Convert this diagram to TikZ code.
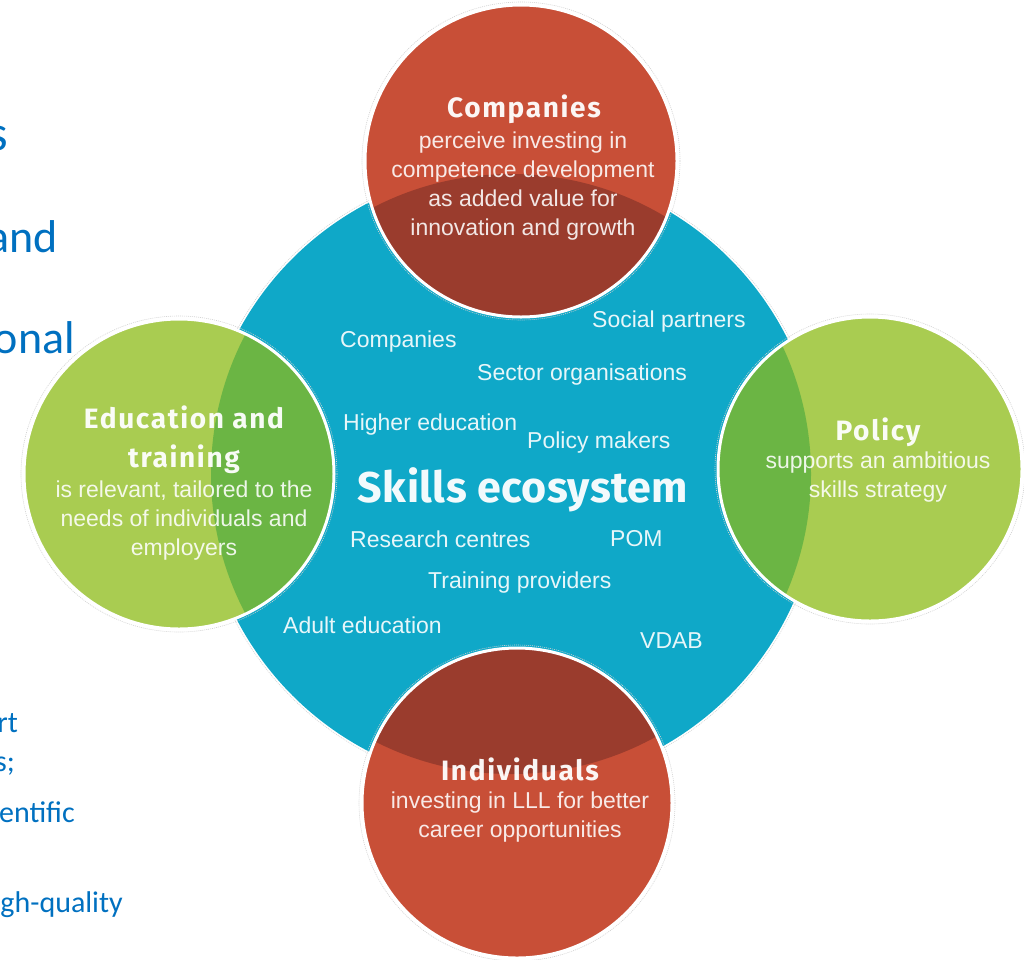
\documentclass[tikz,border=0pt]{standalone}
\usepackage{fontspec}
\setmainfont{Liberation Sans}
\newfontfamily\titlefont{Fira Sans}[LetterSpace=6]
\newfontfamily\ecofont{Fira Sans}[LetterSpace=1]
\newfontfamily\docfont{Carlito}
\definecolor{ecoblue}{HTML}{0FA8C8}
\definecolor{redlight}{HTML}{C84F37}
\definecolor{reddark}{HTML}{9A3C2D}
\definecolor{greenlight}{HTML}{A9CC51}
\definecolor{greendark}{HTML}{6BB544}
\definecolor{docblue}{HTML}{0070C0}
\tikzset{
  body/.style={font=\fontsize{23}{29}\selectfont, text=white, text opacity=0.88, inner sep=0pt, align=center, anchor=base},
  actor/.style={font=\fontsize{23}{29}\selectfont, text=white, text opacity=0.9, inner sep=0pt, anchor=base west},
  ctitle/.style={font=\titlefont\bfseries\fontsize{28}{39}\selectfont, text=white, text opacity=0.95, inner sep=0pt, align=center, anchor=base},
  frag/.style={font=\docfont\fontsize{46}{46}\selectfont, text=docblue, inner sep=0pt, anchor=base east},
  fragsmall/.style={font=\docfont\fontsize{30}{30}\selectfont, text=docblue, inner sep=0pt, anchor=base east},
  rim/.style={draw=white, line width=3pt},
  halo/.style={draw=black!18, line width=0.6pt, dash pattern=on 1pt off 1pt},
}
\begin{document}
\begin{tikzpicture}[x=1pt,y=-1pt]
\useasboundingbox (0,0) rectangle (1024,959);
% central ecosystem circle
\coordinate (eco) at (511,477);
\coordinate (ecoin) at (511,474);
\draw[halo] (eco) circle[radius=311pt];
\fill[ecoblue] (eco) circle[radius=309pt];
% four surrounding circles
\coordinate (ctop) at (521,161);
\coordinate (cbot) at (517,803);
\coordinate (cleft) at (179,474);
\coordinate (cright) at (870,469);
\foreach \c/\r/\l/\d in {ctop/156/redlight/reddark, cbot/155/redlight/reddark, cleft/155/greenlight/greendark, cright/152/greenlight/greendark}{
  \draw[halo] (\c) circle[radius=\r pt+3pt];
  \fill[\l] (\c) circle[radius=\r pt];
  \begin{scope}
    \clip (ecoin) circle[radius=300pt];
    \fill[\d] (\c) circle[radius=\r pt];
  \end{scope}
  \draw[rim] (\c) circle[radius=\r pt];
}
% actors in the ecosystem
\node[actor] (a1) at (340,347) {Companies};
\node[actor] (a2) at (592,327) {Social partners};
\node[actor] (a3) at (477,380) {Sector organisations};
\node[actor] (a4) at (343,430) {Higher education};
\node[actor] (a5) at (527,448) {Policy makers};
\node[ctitle, font=\ecofont\bfseries\fontsize{43}{43}\selectfont] (eco-t) at (523,502) {Skills ecosystem};
\node[actor] (a6) at (350,547) {Research centres};
\node[actor] (a7) at (610,546) {POM};
\node[actor] (a8) at (428,588) {Training providers};
\node[actor] (a9) at (283,633) {Adult education};
\node[actor] (a10) at (640,648) {VDAB};
% circle texts (base anchor = last line's baseline)
\node[ctitle] (comp-t) at (524,117) {Companies};
\node[body] (comp-b) at (523,235) {perceive investing in\\competence development\\as added value for\\innovation and growth};
\node[ctitle] (edu-t) at (184,467) {Education and\\training};
\node[body] (edu-b) at (184,555) {is relevant, tailored to the\\needs of individuals and\\employers};
\node[ctitle] (pol-t) at (878,440) {Policy};
\node[body] (pol-b) at (878,497) {supports an ambitious\\skills strategy};
\node[ctitle] (ind-t) at (520,780) {Individuals};
\node[body] (ind-b) at (520,837) {investing in LLL for better\\career opportunities};
% text fragments of the underlying slide
\node[frag, font=\docfont\fontsize{50}{50}\selectfont] (f1) at (8,150) {s};
\node[frag] (f2) at (58,252) {and};
\node[frag] (f3) at (75,353) {onal};
\node[fragsmall] (f4) at (18,732) {rt};
\node[fragsmall] (f5) at (15,771) {s;};
\node[fragsmall] (f6) at (75,822) {entific};
\node[fragsmall] (f7) at (123,912) {gh-quality};
\end{tikzpicture}
\end{document}
